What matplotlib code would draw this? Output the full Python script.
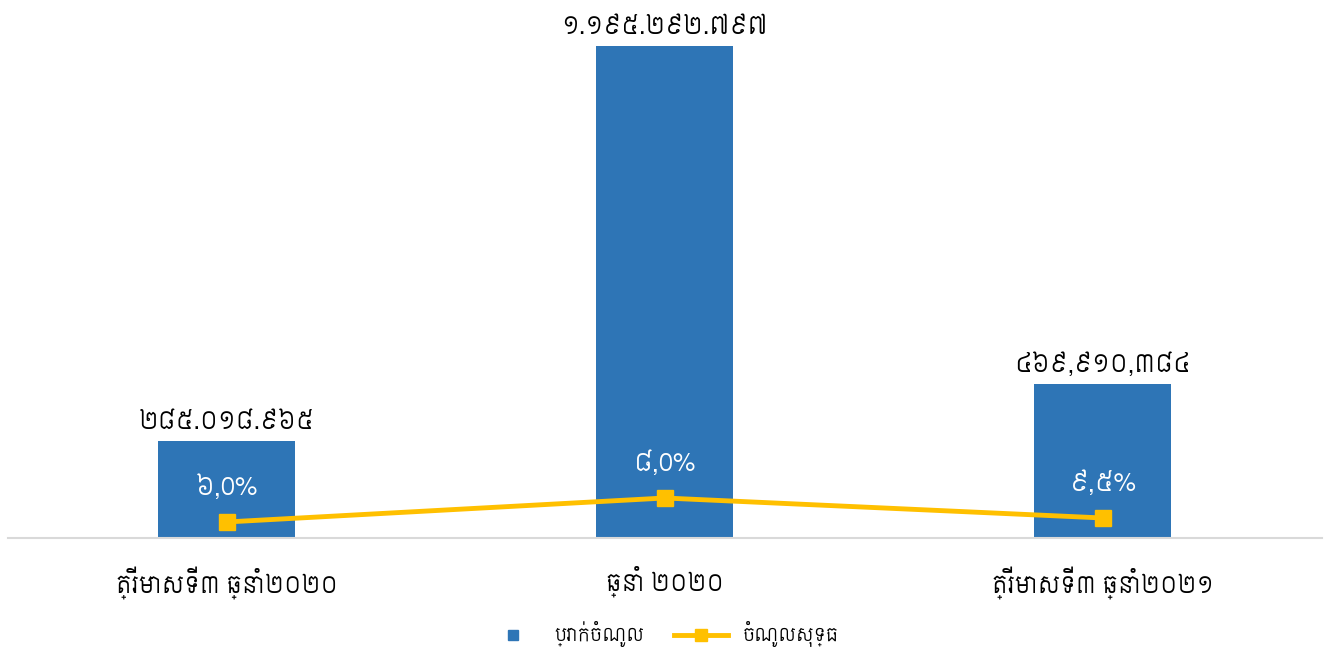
import matplotlib
matplotlib.use("Agg")
import matplotlib.pyplot as plt
from matplotlib.lines import Line2D
import numpy as np

# khmer font first, latin fallback after it
plt.rcParams['font.family'] = ['Siemreap', 'Noto Sans Khmer', 'Battambang', 'DejaVu Sans']

categories = ["ត្រីមាសទី៣ ឆ្នាំ២០២០", "ឆ្នាំ ២០២០", "ត្រីមាសទី៣ ឆ្នាំ២០២១"]
# ប្រាក់ចំណូល (bar heights, million riel)
revenue = [235.7, 1195.3, 374.2]
revenue_labels = ["២៨៥.០១៨.៩៦៥", "១.១៩៥.២៩២.៧៩៧", "៤៦៩,៩១០,៣៨៤"]
# ចំណូលសុទ្ធ (line, same scale)
net_income = [38.9, 97.2, 48.6]
net_labels = ["៦,0%", "៨,0%", "៩,៥%"]

bar_color = "#2E75B6"
line_color = "#FFC000"

fig = plt.figure(figsize=(13.25, 6.56), dpi=100)
ax = fig.add_axes([7.5/1325, (656-538)/656, (1322-7.5)/1325, 528/656])

x = np.arange(len(categories))
ax.bar(x, revenue, width=0.313, color=bar_color, zorder=2)
ax.plot(x, net_income, color=line_color, lw=3.5, marker="s", ms=11, zorder=3)

for i in range(len(x)):
    ax.text(x[i], revenue[i] + 14, revenue_labels[i], ha="center", va="bottom",
            fontsize=17, color="black")
    ax.text(x[i], net_income[i] + 82, net_labels[i], ha="center", va="center",
            fontsize=18, color="white", zorder=4)

ax.set_xlim(-0.5, 2.5)
ax.set_ylim(0, 1282.8)
ax.set_yticks([])
ax.set_xticks(x)
ax.set_xticklabels(categories, fontsize=16.5)
ax.tick_params(axis="x", length=0, pad=20)
for s in ["top", "right", "left"]:
    ax.spines[s].set_visible(False)
ax.spines["bottom"].set_color("#D9D9D9")
ax.spines["bottom"].set_linewidth(1.5)

h_bar = Line2D([], [], color=bar_color, marker="s", ms=7, linestyle="none")
h_line = Line2D([], [], color=line_color, lw=3.5, marker="s", ms=9)
fig.legend(handles=[h_bar, h_line], labels=["ប្រាក់ចំណូល", "ចំណូលសុទ្ធ"],
           loc="center", bbox_to_anchor=(0.5, (656-634)/656),
           ncol=2, frameon=False, fontsize=13, handlelength=3.0, columnspacing=1.6)
fig.savefig("out.png")
